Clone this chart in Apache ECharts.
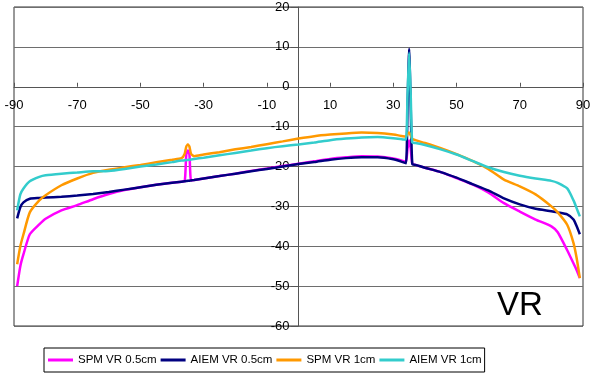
<!DOCTYPE html>
<html>
<head>
<meta charset="utf-8">
<script src="https://cdn.jsdelivr.net/npm/echarts@6/dist/echarts.min.js"></script>
<style>
  html, body { margin: 0; padding: 0; background: #fff; }
  #chart { width: 590px; height: 373px; }
</style>
</head>
<body>
<div id="chart"></div>
<script>
// incidence angle (deg), shared by every series
const angles = [
  -89, -88, -87, -85, -82, -80, -75, -70, -65, -60, -55, -50, -45, -40, -37,
  -36, -35.5, -35, -34.5, -34, -33, -30, -25, -20, -15, -10, -5, 0, 5, 10,
  15, 20, 25, 30, 33, 34, 34.5, 35, 35.5, 36, 37, 40, 45, 50, 55,
  60, 65, 70, 75, 80, 82, 85, 87, 88, 89,
];

const spm05 = [
  -50, -45, -42, -37, -34.5, -33.1, -31, -29.7, -28.2, -26.9, -25.9, -25.2, -24.6, -24.1, -23.8,
  -23.7, -17, -16, -17, -23.5, -23.4, -23.0, -22.4, -21.8, -21.1, -20.5, -19.9, -19.3, -18.7, -18.1,
  -17.7, -17.4, -17.5, -18.0, -18.6, -18.8, -15.5, -13.5, -15.5, -19.3, -19.6, -20.3, -21.4, -22.9, -24.5,
  -26.5, -29.2, -31.3, -33.3, -35.0, -36.5, -41, -44.3, -46, -48,
];

const aiem05 = [
  -33, -30.2, -29, -28.1, -27.9, -27.8, -27.6, -27.3, -26.9, -26.4, -25.8, -25.2, -24.6, -24.1, -23.8,
  -23.7, -23.65, -23.6, -23.55, -23.5, -23.4, -23.0, -22.4, -21.8, -21.2, -20.6, -20.0, -19.4, -18.9, -18.3,
  -17.9, -17.7, -17.7, -18.2, -18.9, -19.2, -5, 9.5, -5, -19.4, -19.6, -20.3, -21.4, -22.8, -24.4,
  -26.0, -28.0, -29.5, -30.6, -31.2, -31.5, -32.0, -33.3, -35, -37,
];

const spm1 = [
  -44.5, -40, -37, -31.5, -28.5, -27.2, -24.7, -23, -21.6, -20.8, -20.2, -19.6, -18.95, -18.3, -17.9,
  -16.8, -15, -14.5, -15, -16.8, -17.4, -17.0, -16.4, -15.7, -15.1, -14.4, -13.7, -13.0, -12.4, -12.0,
  -11.7, -11.5, -11.6, -12.0, -12.4, -12.5, -11.8, -11.5, -12.2, -13.1, -13.4, -14.1, -15.4, -16.9, -18.6,
  -20.6, -23.3, -25.0, -27.0, -30.0, -31.5, -34.6, -39.2, -43, -48,
];

const aiem1 = [
  -31, -27, -25.5, -23.7, -22.6, -22.2, -21.8, -21.5, -21.2, -21.1, -20.6, -20.0, -19.5, -18.9, -18.5,
  -18.45, -18.4, -18.35, -18.3, -18.25, -18.1, -17.8, -17.2, -16.6, -16.0, -15.4, -14.9, -14.5, -14.0, -13.4,
  -13.0, -12.7, -12.6, -12.9, -13.2, -13.3, -2, 8.5, -2, -14.0, -14.1, -14.6, -15.7, -17.0, -18.6,
  -20.2, -21.4, -22.3, -23.0, -23.6, -24.1, -25.5, -28.5, -30.5, -32.5,
];

const seriesNames = ['SPM VR 0.5cm', 'AIEM VR 0.5cm', 'SPM VR 1cm', 'AIEM VR 1cm'];
const seriesColors = ['#ff00ff', '#000080', '#ff9900', '#33cccc'];
const xTickValues = [-90, -70, -50, -30, -10, 10, 30, 50, 70, 90];

const FONT = 'Arial, "Liberation Sans", sans-serif';

// plot box in px; axes cross at (0, 0) so they get shifted inward by offset
const GRID = { left: 14, right: 7, top: 7, bottom: 47 };
const W = 590, H = 373;
const plotW = W - GRID.left - GRID.right;
const plotH = H - GRID.top - GRID.bottom;
const X_MIN = -90, X_MAX = 90, Y_MIN = -60, Y_MAX = 20;
const xAxisOffset = -plotH * (0 - Y_MIN) / (Y_MAX - Y_MIN);
const yAxisOffset = -plotW * (0 - X_MIN) / (X_MAX - X_MIN);

const chart = echarts.init(document.getElementById('chart'));

const series = [spm05, aiem05, spm1, aiem1].map((values, i) => ({
  name: seriesNames[i],
  type: 'line',
  data: angles.map((a, k) => [a, values[k]]),
  showSymbol: false,
  symbol: 'none',
  smooth: 0.2,
  lineStyle: { width: 2.5, color: seriesColors[i] },
  itemStyle: { color: seriesColors[i] },
}));

chart.setOption({
  animation: false,
  grid: {
    ...GRID,
    outerBoundsMode: 'none',
    containLabel: false,
    show: true,
    borderColor: '#333',
    borderWidth: 1,
  },
  xAxis: {
    type: 'value',
    min: X_MIN,
    max: X_MAX,
    position: 'bottom',
    offset: xAxisOffset,
    axisLine: { show: true, onZero: false, lineStyle: { color: '#555', width: 1 } },
    axisTick: { show: true, customValues: xTickValues, inside: true, length: 4, lineStyle: { color: '#555' } },
    axisLabel: {
      customValues: xTickValues,
      color: '#000',
      fontFamily: FONT,
      fontSize: 13,
      margin: 12,
      showMinLabel: true,
      showMaxLabel: true,
      hideOverlap: false,
    },
    splitLine: { show: false },
  },
  yAxis: {
    type: 'value',
    min: Y_MIN,
    max: Y_MAX,
    interval: 10,
    position: 'left',
    offset: yAxisOffset,
    axisLine: { show: true, onZero: false, lineStyle: { color: '#555', width: 1 } },
    axisTick: { show: true, length: 8, lineStyle: { color: '#555' } },
    axisLabel: {
      color: '#000',
      fontFamily: FONT,
      fontSize: 13,
      margin: 9,
      hideOverlap: false,
    },
    splitLine: { show: true, lineStyle: { color: '#6e6e6e', width: 1 } },
  },
  legend: {
    data: seriesNames,
    left: 44,
    top: 348,
    orient: 'horizontal',
    padding: [6, 3, 6, 4],
    itemGap: 4,
    itemWidth: 25,
    itemHeight: 3,
    icon: 'rect',
    borderColor: '#000',
    borderWidth: 1,
    textStyle: { color: '#000', fontFamily: FONT, fontSize: 11.5 },
  },
  graphic: [
    {
      type: 'text',
      left: 497,
      top: 289,
      style: {
        text: 'VR',
        fontFamily: FONT,
        fontSize: 33,
        fill: '#000',
      },
    },
  ],
  series,
});
</script>
</body>
</html>
